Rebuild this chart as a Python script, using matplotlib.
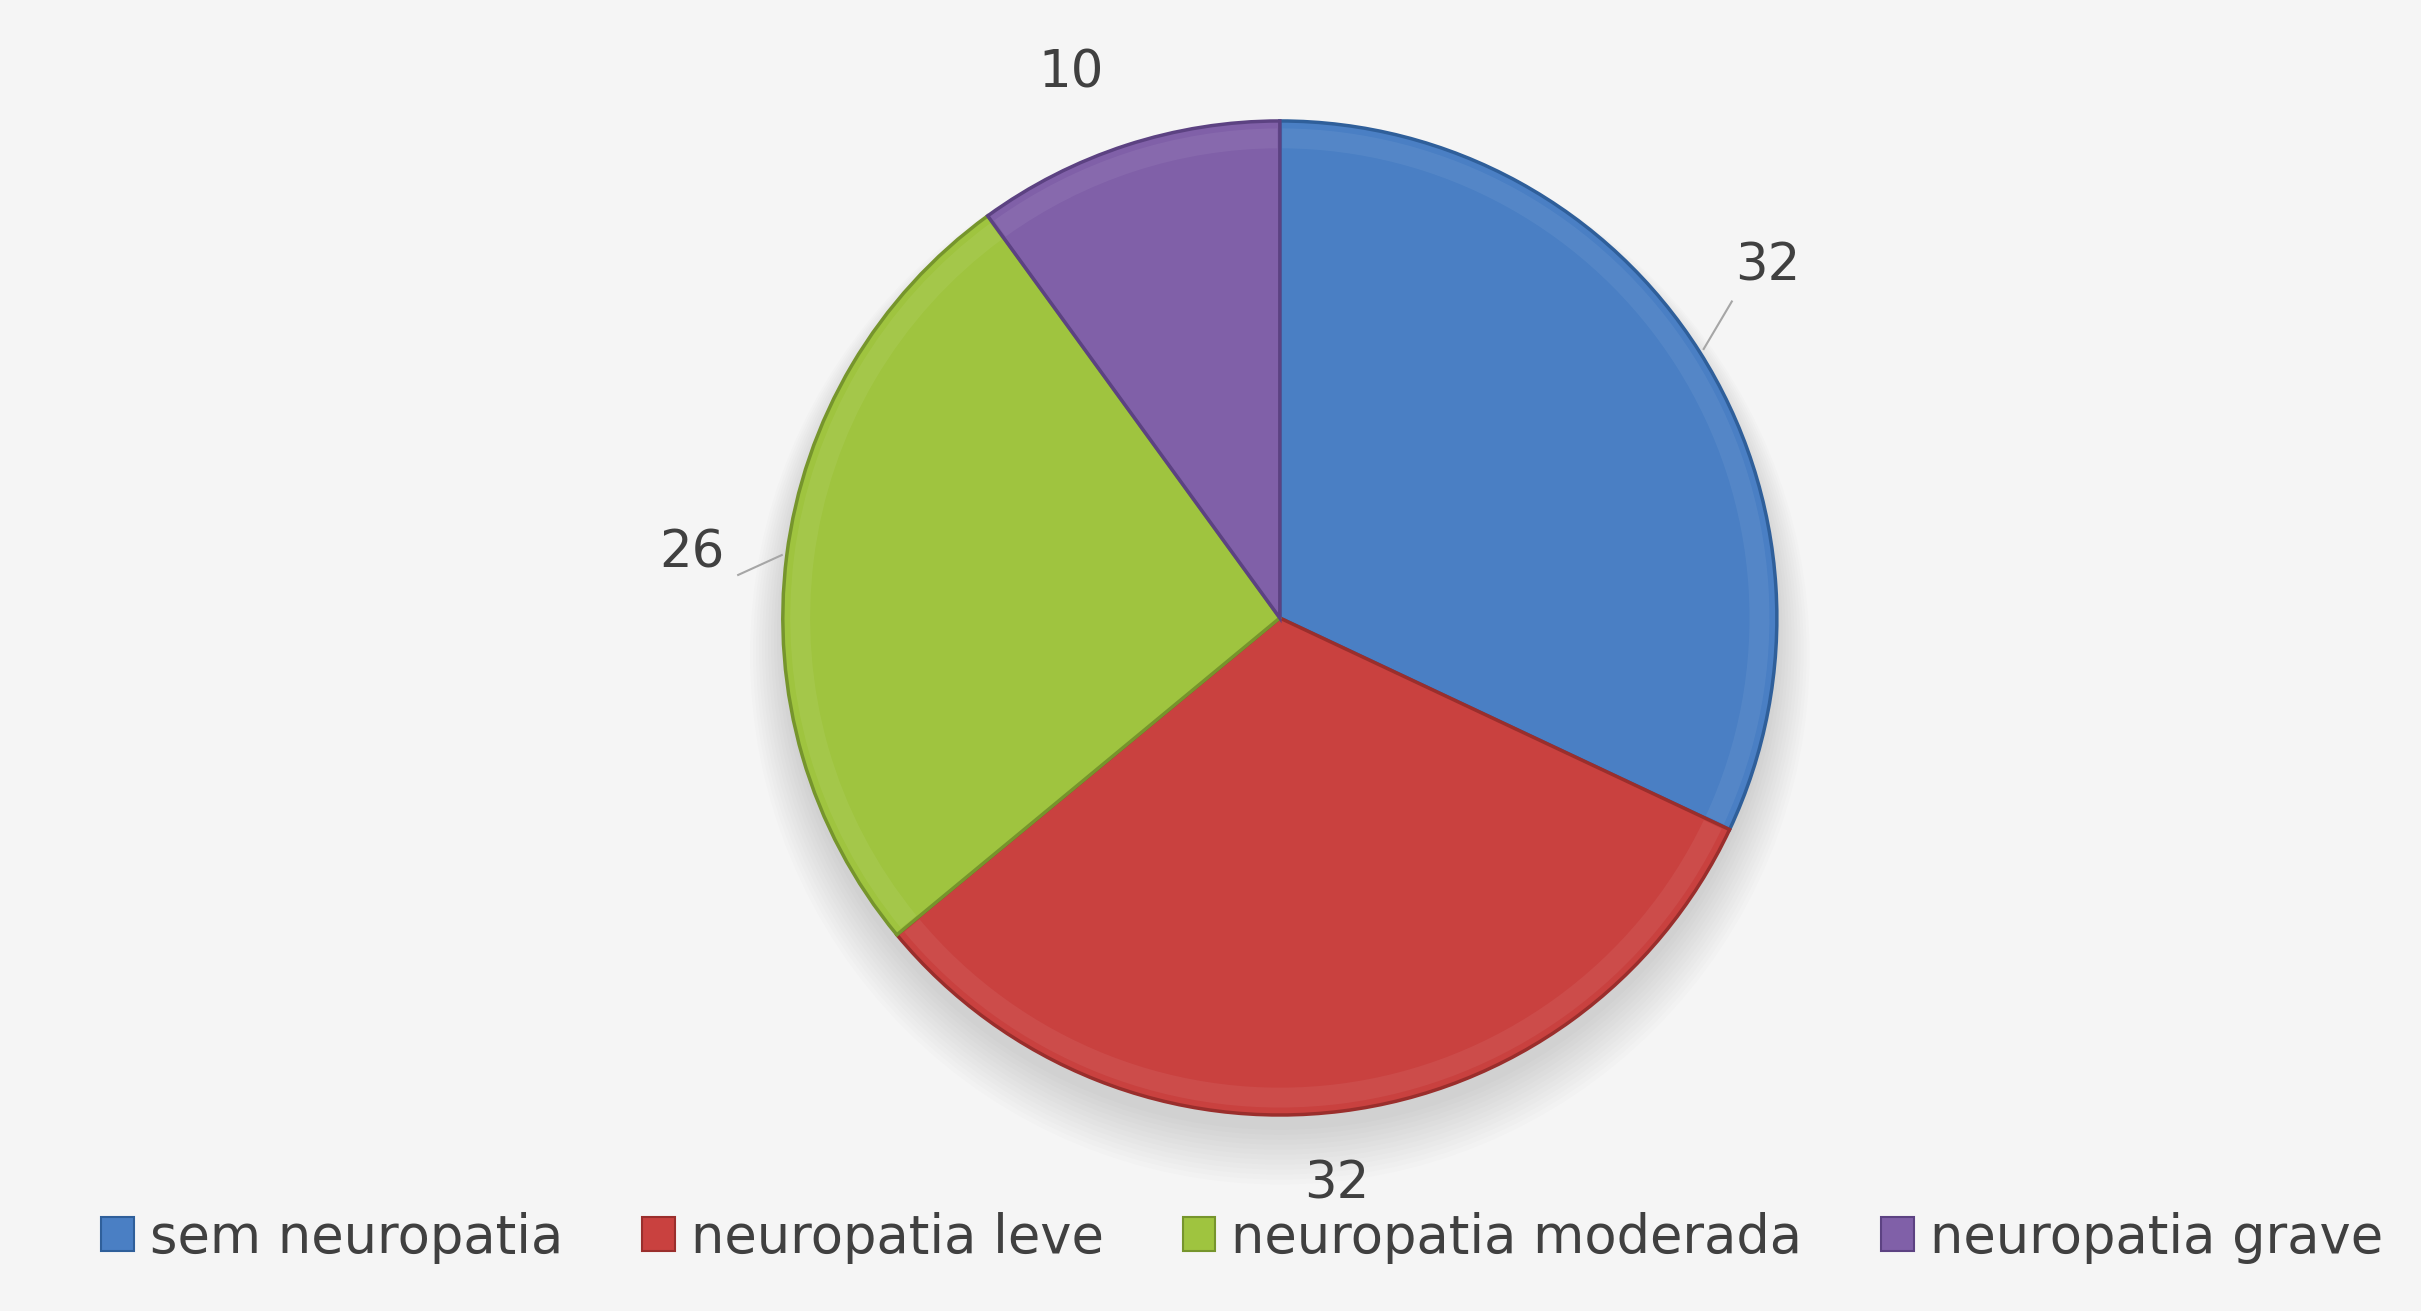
import matplotlib.pyplot as plt
from matplotlib.patches import Circle, Wedge
import numpy as np

categories = ['sem neuropatia', 'neuropatia leve', 'neuropatia moderada', 'neuropatia grave']
values = [32, 32, 26, 10]
colors = ['#4a7fc4', '#c9413f', '#9fc43f', '#8060a8']
edge_colors = ['#2f5f9a', '#9a2e2c', '#76952c', '#5c4282']

# label placement relative to each wedge's middle angle (deg offset, radius)
label_shift = [3.4, -1.5, 0.9, 3.0]
label_radius = [1.21, 1.145, 1.19, 1.174]

bg = '#f5f5f5'
fig = plt.figure(figsize=(24.21, 13.11), dpi=100, facecolor=bg)
ax = fig.add_axes([0, 0, 1, 1])
ax.set_facecolor(bg)

# soft shadow under the pie
for k in range(12):
    ax.add_patch(Circle((0, -0.03 - k * 0.004), 1.0 + k * 0.006,
                        color='#000000', alpha=0.01, lw=0, zorder=0))

wedges, _ = ax.pie(values, colors=colors, startangle=90, counterclock=False,
                   radius=1.0, wedgeprops=dict(linewidth=2.5))
for w, ec in zip(wedges, edge_colors):
    w.set_edgecolor(ec)
    w.set_zorder(2)

# faint bevel along the rim
for w in wedges:
    ax.add_patch(Wedge((0, 0), 0.985, w.theta1 + 0.3, w.theta2 - 0.3, width=0.04,
                       facecolor='white', alpha=0.06, lw=0, zorder=3))

# value labels
label_pos = []
for w, v, d, r in zip(wedges, values, label_shift, label_radius):
    ang = np.deg2rad((w.theta1 + w.theta2) / 2 + d)
    x, y = r * np.cos(ang), r * np.sin(ang)
    label_pos.append((x, y))
    ax.text(x, y, str(v), ha='center', va='center', fontsize=37, color='#404040')

# leader lines for the moved labels
for i, (dx, dy) in ((0, (-0.072, -0.071)), (2, (0.093, -0.044))):
    w = wedges[i]
    ang = np.deg2rad((w.theta1 + w.theta2) / 2)
    lx, ly = label_pos[i]
    ax.plot([1.01 * np.cos(ang), lx + dx], [1.01 * np.sin(ang), ly + dy],
            color='#a6a6a6', lw=1.5, zorder=4)

ax.set_xlim(-2.575, 2.296)
ax.set_ylim(-1.394, 1.243)
ax.set_aspect('equal')
ax.axis('off')

handles = [plt.Rectangle((0, 0), 1, 1, facecolor=c, edgecolor=ec, lw=1.5)
           for c, ec in zip(colors, edge_colors)]
leg = fig.legend(handles, categories, loc='center', bbox_to_anchor=(0.513, 0.056),
                 ncol=4, frameon=False, fontsize=38, handlelength=0.62,
                 handleheight=0.62, handletextpad=0.3, columnspacing=1.5)
for t in leg.get_texts():
    t.set_color('#404040')

fig.savefig('out.png', dpi=100, facecolor=bg)
